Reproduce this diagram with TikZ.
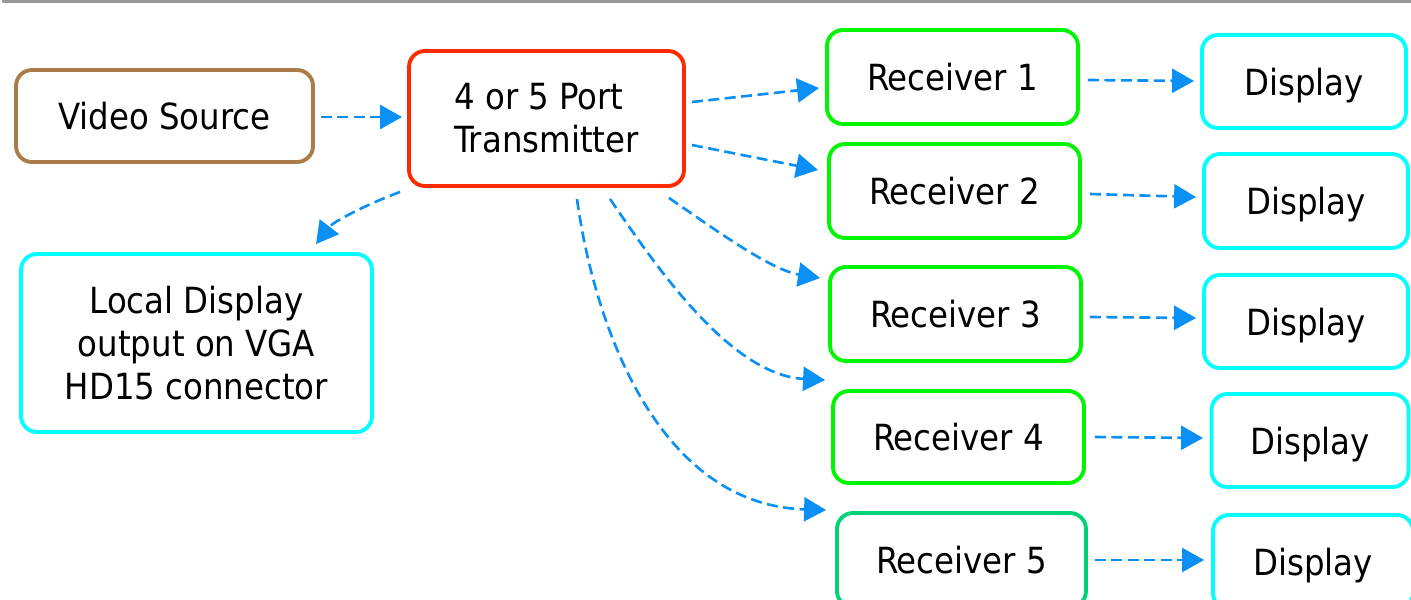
\documentclass[tikz,border=0pt]{standalone}
\usepackage{fontspec}
\setmainfont{DejaVu Sans Condensed}
\usetikzlibrary{arrows.meta}
\definecolor{vsbrown}{HTML}{A97C48}
\definecolor{txred}{HTML}{FF2A00}
\definecolor{rxgreen}{HTML}{00F500}
\definecolor{rxteal}{HTML}{00D27A}
\definecolor{dispcyan}{HTML}{00FFFF}
\definecolor{arrowblue}{HTML}{0A90F5}
\definecolor{topgray}{HTML}{999999}
\begin{document}
\begin{tikzpicture}[x=0.02cm,y=-0.02cm,
  box/.style n args={3}{draw=#1, line width=2.2pt, rounded corners=0.32cm, fill=white,
    minimum width=#2*0.02cm, minimum height=#3*0.02cm, align=center, inner sep=0pt,
    font=\fontsize{20.5}{24.5}\selectfont},
  disp/.style={text depth=0pt},
  conn/.style={draw=arrowblue, line width=1.5pt, dash pattern=on 0.22cm off 0.11cm,
    -{Triangle[length=0.44cm,width=0.48cm]}}]
\useasboundingbox (0,0) rectangle (1411,599);
\clip (0,0) rectangle (1411,599);
\draw[topgray, line width=2.5pt, line cap=round] (4,1) -- (1420,1);

\node[box={vsbrown}{297}{92}] (vs) at (164.5,116) {Video Source};
\node[box={txred}{275}{135}, align=left] (tx) at (546.5,118.5) {4 or 5 Port\\Transmitter};
\node[box={dispcyan}{351}{178}] (ld) at (196.5,343) {Local Display\\output on VGA\\HD15 connector};

\node[box={rxgreen}{251}{94}] (r1) at (952.5,77) {Receiver 1};
\node[box={rxgreen}{251}{94}] (r2) at (954.5,191) {Receiver 2};
\node[box={rxgreen}{251}{94}] (r3) at (955.5,314) {Receiver 3};
\node[box={rxgreen}{251}{92}] (r4) at (958.5,437) {Receiver 4};
\node[box={rxteal}{249}{94}] (r5) at (961.5,560) {Receiver 5};

\node[box={dispcyan}{204}{93}, disp] (d1) at (1304,81.5) {Display};
\node[box={dispcyan}{204}{94}, disp] (d2) at (1306,201) {Display};
\node[box={dispcyan}{204}{93}, disp] (d3) at (1306,321.5) {Display};
\node[box={dispcyan}{197}{93}, disp] (d4) at (1310,440.5) {Display};
\node[box={dispcyan}{200}{94}, disp] (d5) at (1313,562) {Display};

\draw[conn] ([shift={(6,1)}]vs.east) -- ([shift={(-5,-1.5)}]tx.west);
\draw[conn] ([shift={(6,-16.5)}]tx.east) -- ([shift={(-6,11)}]r1.west);
\draw[conn] ([shift={(6,26.5)}]tx.east) -- ([shift={(-9,-21)}]r2.west);
\draw[conn] ([shift={(-17,10)}]tx.south east) .. controls (710,226) and (770,270) .. ([shift={(-8,-36)}]r3.west);
\draw[conn] ([shift={(63.5,11)}]tx.south) .. controls (655,265) and (730,375) .. ([shift={(-6,-57)}]r4.west);
\draw[conn] ([shift={(30.5,11)}]tx.south) .. controls (595,330) and (660,505) .. ([shift={(-9,-50)}]r5.west);
\draw[conn] ([shift={(-7,4)}]tx.south west) .. controls (365,205) and (333,222) .. ([shift={(119.5,-8)}]ld.north);

\draw[conn] ([shift={(8,3)}]r1.east) -- ([shift={(-6,-0.5)}]d1.west);
\draw[conn] ([shift={(8,3)}]r2.east) -- ([shift={(-6,-4)}]d2.west);
\draw[conn] ([shift={(7,3)}]r3.east) -- ([shift={(-6,-3.5)}]d3.west);
\draw[conn] ([shift={(9,0)}]r4.east) -- ([shift={(-6.5,-2.5)}]d4.west);
\draw[conn] ([shift={(7,0)}]r5.east) -- ([shift={(-7,-2)}]d5.west);
\end{tikzpicture}
\end{document}
